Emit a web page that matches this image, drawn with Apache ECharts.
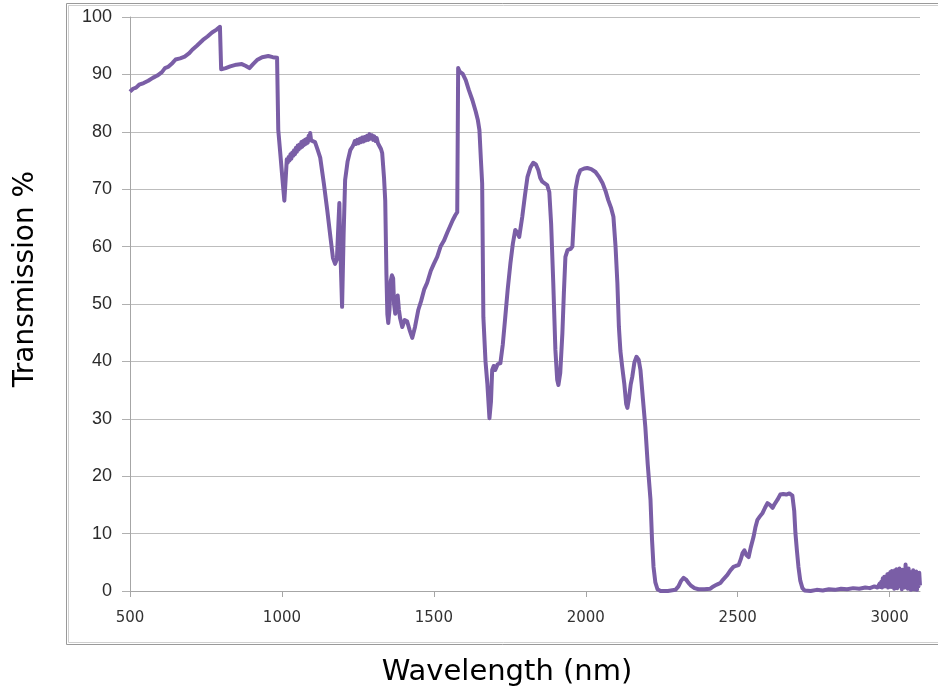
<!DOCTYPE html>
<html>
<head>
<meta charset="utf-8">
<title>Transmission spectrum</title>
<script src="https://cdn.jsdelivr.net/npm/echarts@6/dist/echarts.min.js"></script>
<style>
  html, body { margin: 0; padding: 0; background: #ffffff; }
  #chart { width: 938px; height: 693px; }
</style>
</head>
<body>
<div id="chart"></div>
<script>
// Measured transmission (%) as [wavelength nm, transmission] pairs, split by spectral band
const band500to990 = [
  [500, 87.0], [510, 87.5], [520, 87.7], [530, 88.2], [545, 88.5], [560, 88.9], [575, 89.4], [590, 89.8],
  [605, 90.4], [615, 91.1], [625, 91.3], [640, 92.0], [650, 92.6], [665, 92.8], [680, 93.1], [695, 93.7],
  [705, 94.3], [720, 95.0], [740, 96.0], [755, 96.6], [770, 97.3], [785, 97.8], [796, 98.3],
  [800, 90.9], [815, 91.1], [830, 91.4], [850, 91.7], [868, 91.8], [880, 91.5], [893, 91.1], [905, 91.8],
  [918, 92.5], [935, 93.0], [955, 93.2], [970, 93.0], [984, 92.9]
];
const band990to1340 = [
  [988, 80.3], [995, 76.0], [1003, 71.0], [1008, 68.0], [1012, 71.5], [1016, 75.2], [1019, 74.6],
  [1022, 75.6], [1025, 75.0], [1028, 76.1], [1031, 75.3], [1034, 76.4], [1037, 75.8], [1040, 76.8],
  [1043, 76.1], [1046, 77.2], [1049, 76.5], [1052, 77.6], [1055, 76.9], [1058, 77.8], [1061, 77.2],
  [1064, 78.2], [1067, 77.4], [1070, 78.4], [1073, 77.7], [1076, 78.6], [1079, 77.9], [1082, 78.8],
  [1085, 78.1], [1088, 79.3], [1091, 78.6], [1093, 79.8], [1096, 78.5], [1100, 78.6],
  [1109, 78.2], [1118, 76.8], [1126, 75.5], [1138, 71.0], [1149, 66.4], [1160, 61.5], [1168, 58.0],
  [1175, 57.0], [1181, 57.8], [1186, 64.0], [1189, 67.6], [1192, 60.0], [1198, 49.5], [1203, 62.0],
  [1208, 71.6], [1216, 74.8], [1225, 76.8], [1232, 77.4], [1236, 77.8], [1240, 78.4], [1244, 77.9],
  [1248, 78.6], [1252, 78.0], [1256, 78.8], [1260, 78.2], [1264, 79.0], [1268, 78.3], [1272, 79.1],
  [1276, 78.5], [1280, 79.3], [1284, 78.6], [1288, 79.6], [1292, 78.8], [1296, 79.4], [1300, 78.6],
  [1304, 79.2], [1308, 78.4], [1312, 78.9], [1316, 78.0], [1320, 77.8], [1326, 77.0], [1330, 76.3],
  [1336, 72.0], [1340, 68.0]
];
const band1340to1580 = [
  [1344, 55.0], [1347, 48.2], [1350, 46.7], [1354, 49.0], [1358, 54.0], [1362, 55.0], [1366, 54.5],
  [1369, 50.0], [1373, 48.3], [1377, 50.0], [1381, 51.5], [1385, 49.0], [1389, 47.5], [1396, 46.0],
  [1404, 47.2], [1412, 47.0], [1420, 45.5], [1429, 44.1], [1438, 46.0], [1449, 49.0], [1458, 50.5],
  [1468, 52.5], [1478, 53.7], [1490, 55.8], [1500, 57.0], [1511, 58.2], [1522, 60.0], [1533, 61.0],
  [1544, 62.4], [1553, 63.5], [1562, 64.6], [1571, 65.5], [1577, 66.0]
];
const band1580to2240 = [
  [1580, 91.1], [1585, 90.5], [1595, 90.1], [1605, 89.0], [1615, 87.3], [1627, 85.5], [1638, 83.5],
  [1645, 82.0], [1650, 80.3], [1655, 75.0], [1659, 71.0], [1663, 47.7], [1670, 40.0], [1676, 36.2],
  [1683, 30.1], [1688, 33.0], [1692, 38.5], [1697, 39.2], [1702, 38.5], [1710, 39.5], [1719, 39.7],
  [1727, 43.0], [1735, 47.7], [1743, 52.5], [1752, 57.1], [1760, 60.5], [1768, 62.9], [1774, 62.5],
  [1781, 61.7], [1791, 65.2], [1800, 69.0], [1808, 72.1], [1818, 73.8], [1827, 74.6], [1836, 74.3],
  [1844, 73.3], [1850, 72.0], [1857, 71.3], [1865, 71.0], [1873, 70.7], [1880, 69.5], [1886, 64.0],
  [1893, 53.7], [1900, 42.0], [1906, 36.8], [1910, 35.9], [1916, 38.0], [1923, 44.9], [1928, 52.0],
  [1933, 58.2], [1940, 59.4], [1950, 59.6], [1956, 60.0], [1961, 65.0], [1966, 69.9], [1974, 72.2],
  [1982, 73.3], [1995, 73.6], [2005, 73.7], [2018, 73.5], [2032, 73.0], [2043, 72.2], [2055, 71.1],
  [2065, 69.7], [2074, 68.1], [2083, 66.8], [2091, 65.2], [2098, 60.0], [2104, 53.7], [2109, 46.0],
  [2114, 41.8], [2120, 39.0], [2127, 36.0], [2133, 32.6], [2137, 31.9], [2142, 33.5], [2148, 36.0],
  [2153, 37.3], [2160, 39.8], [2167, 40.8], [2174, 40.3], [2180, 38.5], [2188, 33.5], [2196, 28.6],
  [2204, 22.0], [2213, 15.9], [2218, 9.0], [2223, 4.2], [2229, 1.5], [2236, 0.3]
];
const band2240to2720 = [
  [2246, 0.0], [2270, 0.0], [2295, 0.2], [2305, 0.8], [2314, 1.8], [2322, 2.3], [2330, 2.0], [2338, 1.4],
  [2345, 1.0], [2358, 0.5], [2371, 0.3], [2390, 0.3], [2410, 0.4], [2420, 0.8], [2427, 1.0], [2435, 1.2],
  [2443, 1.4], [2452, 2.0], [2466, 2.8], [2476, 3.6], [2486, 4.2], [2495, 4.4], [2503, 4.5], [2510, 5.5],
  [2516, 6.6], [2522, 7.1], [2528, 6.3], [2536, 5.9], [2543, 7.6], [2552, 9.4], [2558, 11.0], [2565, 12.4],
  [2573, 13.0], [2582, 13.6], [2590, 14.5], [2598, 15.3], [2606, 15.0], [2615, 14.5], [2622, 15.2],
  [2631, 15.9], [2640, 16.8], [2650, 16.9], [2660, 16.8], [2670, 17.0], [2680, 16.6], [2686, 14.0],
  [2690, 10.1], [2695, 7.0], [2700, 4.2], [2706, 1.8], [2713, 0.5], [2720, 0.1]
];
const band2720to3100 = [
  [2740, 0.0], [2760, 0.2], [2780, 0.1], [2800, 0.3], [2820, 0.2], [2840, 0.4], [2860, 0.3], [2880, 0.5],
  [2900, 0.4], [2920, 0.6], [2935, 0.5], [2950, 0.8], [2960, 0.6], [2962.5, 0.9], [2965, 0.5],
  [2967.5, 1.3], [2970, 0.7], [2972.5, 1.6], [2975, 0.6], [2977.5, 2.2], [2980, 0.9], [2982.5, 2.5],
  [2985, 0.8], [2987.5, 2.4], [2990, 1.1], [2992.5, 2.9], [2995, 0.6], [2997.5, 3.0], [3000, 1.4],
  [3002.5, 3.3], [3005, 0.7], [3007.5, 3.5], [3010, 1.2], [3012.5, 3.1], [3015, 0.4], [3017.5, 3.6],
  [3020, 1.0], [3022.5, 3.8], [3025, 0.5], [3027.5, 3.4], [3030, 1.6], [3032.5, 3.9], [3035, 0.8],
  [3037.5, 3.2], [3040, 0.3], [3042.5, 3.7], [3045, 1.1], [3047.5, 3.4], [3050, 0.6], [3052.5, 4.6],
  [3055, 1.3], [3057.5, 3.5], [3060, 0.4], [3062.5, 3.9], [3065, 1.0], [3067.5, 2.9], [3070, 0.2],
  [3072.5, 3.3], [3075, 0.9], [3077.5, 3.6], [3080, 0.3], [3082.5, 3.0], [3085, 1.2], [3087.5, 3.4],
  [3090, 0.2], [3092.5, 3.1], [3095, 0.8], [3097.5, 3.2], [3100, 1.0]
];

// Axis ranges
const xMin = 500, xMax = 3100, xStep = 500;
const yMin = 0, yMax = 100, yStep = 10;

const spectrum = [].concat(band500to990, band990to1340, band1340to1580,
                           band1580to2240, band2240to2720, band2720to3100);

const chart = echarts.init(document.getElementById('chart'), null, { renderer: 'canvas' });

chart.setOption({
  backgroundColor: '#ffffff',
  animation: false,
  grid: { left: 130, right: 18, top: 17, bottom: 102, containLabel: false },
  xAxis: {
    type: 'value',
    min: xMin, max: xMax, interval: xStep,
    axisLine: { show: true, lineStyle: { color: '#a6a6a6', width: 1 } },
    axisTick: { show: true, length: 6, lineStyle: { color: '#a6a6a6' } },
    splitLine: { show: false },
    axisLabel: {
      margin: 20,
      color: '#333333',
      fontFamily: 'DejaVu Sans',
      fontSize: 15,
      showMaxLabel: false,
      formatter: (v) => String(v)
    }
  },
  yAxis: {
    type: 'value',
    min: yMin, max: yMax, interval: yStep,
    axisLine: { show: true, lineStyle: { color: '#a6a6a6', width: 1 } },
    axisTick: { show: true, length: 8, lineStyle: { color: '#b0b0b0' } },
    splitLine: { show: true, lineStyle: { color: '#bdbdbd', width: 1 } },
    axisLabel: {
      margin: 18,
      color: '#2b2b2b',
      fontFamily: 'Liberation Sans',
      fontSize: 18
    }
  },
  graphic: [
    // double border of the chart frame
    { type: 'rect', shape: { x: 66.5, y: 3.5, width: 900, height: 641 },
      style: { fill: null, stroke: '#9a9a9a', lineWidth: 1 }, silent: true, z: -1 },
    { type: 'rect', shape: { x: 68.5, y: 5.5, width: 900, height: 637 },
      style: { fill: null, stroke: '#cfcfcf', lineWidth: 1 }, silent: true, z: -1 },
    { type: 'text', x: 507, y: 672,
      style: { text: 'Wavelength (nm)', fill: '#000000', font: '29px "DejaVu Sans"',
               textAlign: 'center', textVerticalAlign: 'middle' } },
    { type: 'text', x: 26, y: 279, rotation: Math.PI / 2,
      style: { text: 'Transmission %', fill: '#000000', font: '28px "DejaVu Sans"',
               textAlign: 'center', textVerticalAlign: 'middle' } }
  ],
  series: [{
    type: 'line',
    data: spectrum,
    showSymbol: false,
    smooth: false,
    clip: true,
    lineStyle: { color: '#7a5ea6', width: 4, join: 'round' }
  }]
});
</script>
</body>
</html>
